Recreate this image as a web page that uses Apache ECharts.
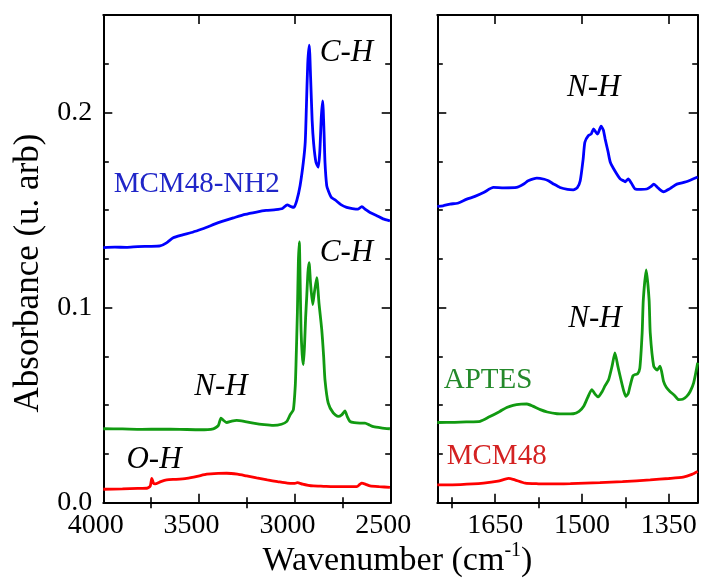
<!DOCTYPE html>
<html>
<head>
<meta charset="utf-8">
<script src="https://cdn.jsdelivr.net/npm/echarts@6/dist/echarts.min.js"></script>
<style>
  html, body { margin: 0; padding: 0; background: #fff; }
  #chart { width: 704px; height: 585px; }
</style>
</head>
<body>
<div id="chart"></div>
<script>
// FTIR absorbance spectra: [wavenumber (cm-1), absorbance]
// High-wavenumber window (4000-2500 cm-1)
const nh2High = [
  [4000,0.1308],[3940,0.1310],[3880,0.1309],[3820,0.1313],[3760,0.1314],[3704,0.1316],
  [3670,0.1332],[3635,0.1358],[3590,0.1372],[3540,0.1385],[3500,0.1398],[3460,0.1412],
  [3420,0.1428],[3380,0.1442],[3321,0.1460],[3260,0.1478],[3200,0.1490],[3150,0.1498],
  [3100,0.1502],[3065,0.1508],[3040,0.1527],[3020,0.1518],[3005,0.1514],[2990,0.1550],
  [2973,0.1625],[2956,0.1745],[2946,0.1850],[2940,0.2030],[2933,0.2250],[2925,0.2345],
  [2918,0.2180],[2910,0.1960],[2902,0.1840],[2890,0.1745],[2878,0.1720],[2870,0.1800],
  [2862,0.1980],[2855,0.2060],[2848,0.1900],[2843,0.1745],[2834,0.1625],[2826,0.1600],
  [2810,0.1565],[2790,0.1552],[2760,0.1528],[2730,0.1514],[2700,0.1508],[2670,0.1505],
  [2651,0.1518],[2630,0.1502],[2608,0.1488],[2570,0.1470],[2540,0.1455],[2504,0.1445]
];
const aptesHigh = [
  [4000,0.0379],[3900,0.0378],[3800,0.0376],[3700,0.0377],[3600,0.0376],[3495,0.0374],
  [3426,0.0379],[3400,0.0395],[3386,0.0434],[3370,0.0420],[3356,0.0411],[3330,0.0418],
  [3304,0.0422],[3260,0.0416],[3217,0.0408],[3160,0.0400],[3112,0.0396],[3070,0.0402],
  [3042,0.0417],[3025,0.0450],[3008,0.0477],[2998,0.0600],[2994,0.0718],[2987,0.0975],
  [2982,0.1230],[2977,0.1337],[2972,0.1100],[2968,0.0888],[2962,0.0760],[2956,0.0708],
  [2950,0.0800],[2944,0.0950],[2938,0.1060],[2932,0.1180],[2926,0.1231],[2918,0.1120],
  [2907,0.1016],[2898,0.1080],[2886,0.1154],[2874,0.1020],[2860,0.0888],[2850,0.0750],
  [2843,0.0630],[2826,0.0510],[2800,0.0460],[2774,0.0442],[2756,0.0450],[2739,0.0470],
  [2726,0.0440],[2713,0.0417],[2690,0.0410],[2661,0.0408],[2634,0.0408],[2610,0.0398],
  [2590,0.0390],[2550,0.0384],[2504,0.0379]
];
const mcmHigh = [
  [4000,0.0069],[3900,0.0071],[3820,0.0073],[3774,0.0074],[3755,0.0085],[3747,0.0125],
  [3738,0.0100],[3730,0.0096],[3700,0.0108],[3669,0.0117],[3620,0.0120],[3565,0.0125],
  [3510,0.0135],[3460,0.0146],[3400,0.0150],[3356,0.0151],[3300,0.0146],[3252,0.0137],
  [3200,0.0127],[3144,0.0117],[3090,0.0108],[3040,0.0100],[3000,0.0099],[2987,0.0103],
  [2960,0.0095],[2930,0.0089],[2904,0.0086],[2850,0.0084],[2800,0.0082],[2740,0.0082],
  [2677,0.0082],[2660,0.0095],[2651,0.0100],[2630,0.0094],[2608,0.0086],[2560,0.0082],
  [2504,0.0079]
];
// Fingerprint window (1750-1300 cm-1)
const nh2Low = [
  [1750,0.1519],[1740,0.1522],[1728,0.1531],[1715,0.1535],[1699,0.1556],[1685,0.1570],
  [1670,0.1590],[1653,0.1616],[1635,0.1614],[1613,0.1616],[1600,0.1635],[1593,0.1650],
  [1578,0.1664],[1565,0.1658],[1558,0.1650],[1548,0.1632],[1538,0.1616],[1525,0.1606],
  [1515,0.1604],[1508,0.1615],[1503,0.1650],[1498,0.1760],[1495,0.1848],[1489,0.1882],
  [1484,0.1890],[1480,0.1916],[1476,0.1900],[1473,0.1890],[1467,0.1930],[1463,0.1910],
  [1460,0.1865],[1455,0.1800],[1451,0.1745],[1443,0.1700],[1434,0.1660],[1428,0.1650],
  [1425,0.1645],[1420,0.1660],[1415,0.1640],[1408,0.1608],[1398,0.1606],[1388,0.1608],
  [1381,0.1620],[1376,0.1633],[1368,0.1612],[1359,0.1594],[1348,0.1610],[1336,0.1633],
  [1320,0.1645],[1300,0.1670]
];
const aptesLow = [
  [1750,0.0411],[1720,0.0412],[1700,0.0414],[1676,0.0417],[1660,0.0440],[1642,0.0468],
  [1630,0.0488],[1619,0.0499],[1605,0.0505],[1595,0.0506],[1585,0.0495],[1572,0.0477],
  [1560,0.0465],[1543,0.0456],[1530,0.0455],[1515,0.0456],[1505,0.0468],[1497,0.0494],
  [1490,0.0540],[1483,0.0580],[1477,0.0555],[1472,0.0542],[1465,0.0570],[1460,0.0600],
  [1454,0.0630],[1448,0.0700],[1443,0.0768],[1438,0.0700],[1434,0.0648],[1428,0.0575],
  [1424,0.0545],[1420,0.0560],[1417,0.0596],[1412,0.0650],[1408,0.0657],[1404,0.0660],
  [1400,0.0690],[1396,0.0870],[1394,0.1040],[1389,0.1193],[1384,0.1040],[1382,0.0870],
  [1376,0.0700],[1370,0.0680],[1365,0.0700],[1359,0.0622],[1354,0.0590],[1348,0.0570],
  [1340,0.0550],[1333,0.0528],[1326,0.0530],[1319,0.0545],[1313,0.0570],[1307,0.0614],
  [1300,0.0717]
];
const mcmLow = [
  [1750,0.0091],[1710,0.0093],[1670,0.0100],[1645,0.0110],[1627,0.0125],[1616,0.0117],
  [1598,0.0100],[1575,0.0097],[1555,0.0096],[1520,0.0098],[1469,0.0103],[1430,0.0108],
  [1382,0.0117],[1350,0.0124],[1325,0.0131],[1310,0.0145],[1300,0.0160]
];

// Tick values
const highTicks = [4000, 3500, 3000, 2500];
const highMinor = [3750, 3250, 2750];
const lowTicks = [1650, 1500, 1350];
const lowMinor = [1725, 1575, 1425];
const yTicks = [0, 0.1, 0.2];
const yMinor = [0.025, 0.05, 0.075, 0.125, 0.15, 0.175, 0.225];

const FONT = 'Liberation Serif';
const BLUE = '#0000ff', GREEN = '#119a11', RED = '#ff0000';

const chart = echarts.init(document.getElementById('chart'), null, { renderer: 'canvas' });

const grids = [
  { left: 103.3, top: 15, width: 287.4, height: 487.7 },
  { left: 437.3, top: 15, width: 260.4, height: 487.7 }
];

function makeX(grid, min, max, major, minor, withLabels, labelPad) {
  const base = { type: 'value', gridIndex: grid, min: min, max: max, inverse: true,
    splitLine: { show: false } };
  const axes = [];
  ['bottom', 'top'].forEach(function (pos) {
    axes.push(Object.assign({}, base, {
      position: pos,
      axisLine: { show: true, onZero: false, lineStyle: { color: '#000', width: 2 } },
      axisTick: { show: true, inside: true, length: 9, customValues: major,
        lineStyle: { color: '#000', width: 1.6 } },
      axisLabel: { show: withLabels && pos === 'bottom', customValues: major, margin: 9,
        fontFamily: FONT, fontSize: 28, color: '#000', padding: labelPad,
        formatter: function (v) { return String(v); } }
    }));
    axes.push(Object.assign({}, base, {
      position: pos,
      axisLine: { show: false },
      axisTick: { show: true, inside: true, length: 5.5, customValues: minor,
        lineStyle: { color: '#000', width: 1.6 } },
      axisLabel: { show: false }
    }));
  });
  return axes;
}

function makeY(grid, withLabels) {
  const base = { type: 'value', gridIndex: grid, min: 0, max: 0.25, splitLine: { show: false } };
  const axes = [];
  ['left', 'right'].forEach(function (pos) {
    axes.push(Object.assign({}, base, {
      position: pos,
      axisLine: { show: true, onZero: false, lineStyle: { color: '#000', width: 2 } },
      axisTick: { show: true, inside: true, length: 9, customValues: yTicks,
        lineStyle: { color: '#000', width: 1.6 } },
      axisLabel: { show: withLabels && pos === 'left', customValues: yTicks, margin: 11,
        fontFamily: FONT, fontSize: 28, color: '#000',
        formatter: function (v) { return v.toFixed(1); } }
    }));
    axes.push(Object.assign({}, base, {
      position: pos,
      axisLine: { show: false },
      axisTick: { show: true, inside: true, length: 5.5, customValues: yMinor,
        lineStyle: { color: '#000', width: 1.6 } },
      axisLabel: { show: false }
    }));
  });
  return axes;
}

const xAxes = makeX(0, 2500, 4000, highTicks, highMinor, true, [0, 15, 0, 0])
  .concat(makeX(1, 1300, 1750, lowTicks, lowMinor, true, 0));
const yAxes = makeY(0, true).concat(makeY(1, false));

function line(data, color, xi, yi) {
  return { type: 'line', data: data, xAxisIndex: xi, yAxisIndex: yi,
    showSymbol: false, smooth: 0.2, clip: true,
    lineStyle: { color: color, width: 2.8 }, emphasis: { disabled: true } };
}

function note(text, x, y, opts) {
  return { type: 'text', x: x, y: y, silent: true,
    style: Object.assign({ text: text, fontFamily: FONT, fontSize: 31, fill: '#000',
      align: 'center', verticalAlign: 'middle' }, opts || {}) };
}

const option = {
  animation: false,
  backgroundColor: '#fff',
  grid: grids,
  xAxis: xAxes,
  yAxis: yAxes,
  series: [
    line(nh2High, BLUE, 0, 0),
    line(aptesHigh, GREEN, 0, 0),
    line(mcmHigh, RED, 0, 0),
    line(nh2Low, BLUE, 4, 4),
    line(aptesLow, GREEN, 4, 4),
    line(mcmLow, RED, 4, 4)
  ],
  graphic: [
    note('C-H', 346.5, 53, { fontStyle: 'italic' }),
    note('C-H', 346.5, 253, { fontStyle: 'italic' }),
    note('N-H', 221, 386.5, { fontStyle: 'italic' }),
    note('O-H', 154, 460, { fontStyle: 'italic' }),
    note('N-H', 593.7, 88, { fontStyle: 'italic' }),
    note('N-H', 595, 319, { fontStyle: 'italic' }),
    note('MCM48-NH2', 196.7, 184, { fontSize: 29, fill: '#2026c8' }),
    note('APTES', 488, 380, { fontSize: 29, fill: '#23892a' }),
    note('MCM48', 496.7, 456, { fontSize: 29, fill: '#d42222' }),
    { type: 'text', x: 29, y: 273, rotation: Math.PI / 2, silent: true,
      style: { text: 'Absorbance (u. arb)', fontFamily: FONT, fontSize: 35, fill: '#000',
        align: 'center', verticalAlign: 'middle' } },
    { type: 'text', x: 397.5, y: 561, silent: true,
      style: { text: '{t|Wavenumber (cm}{s|-1}{t|)}', align: 'center', verticalAlign: 'middle',
        rich: {
          t: { fontFamily: FONT, fontSize: 34, fill: '#000', lineHeight: 40 },
          s: { fontFamily: FONT, fontSize: 20, fill: '#000', verticalAlign: 'top', lineHeight: 22 }
        } } }
  ]
};

chart.setOption(option);
</script>
</body>
</html>
